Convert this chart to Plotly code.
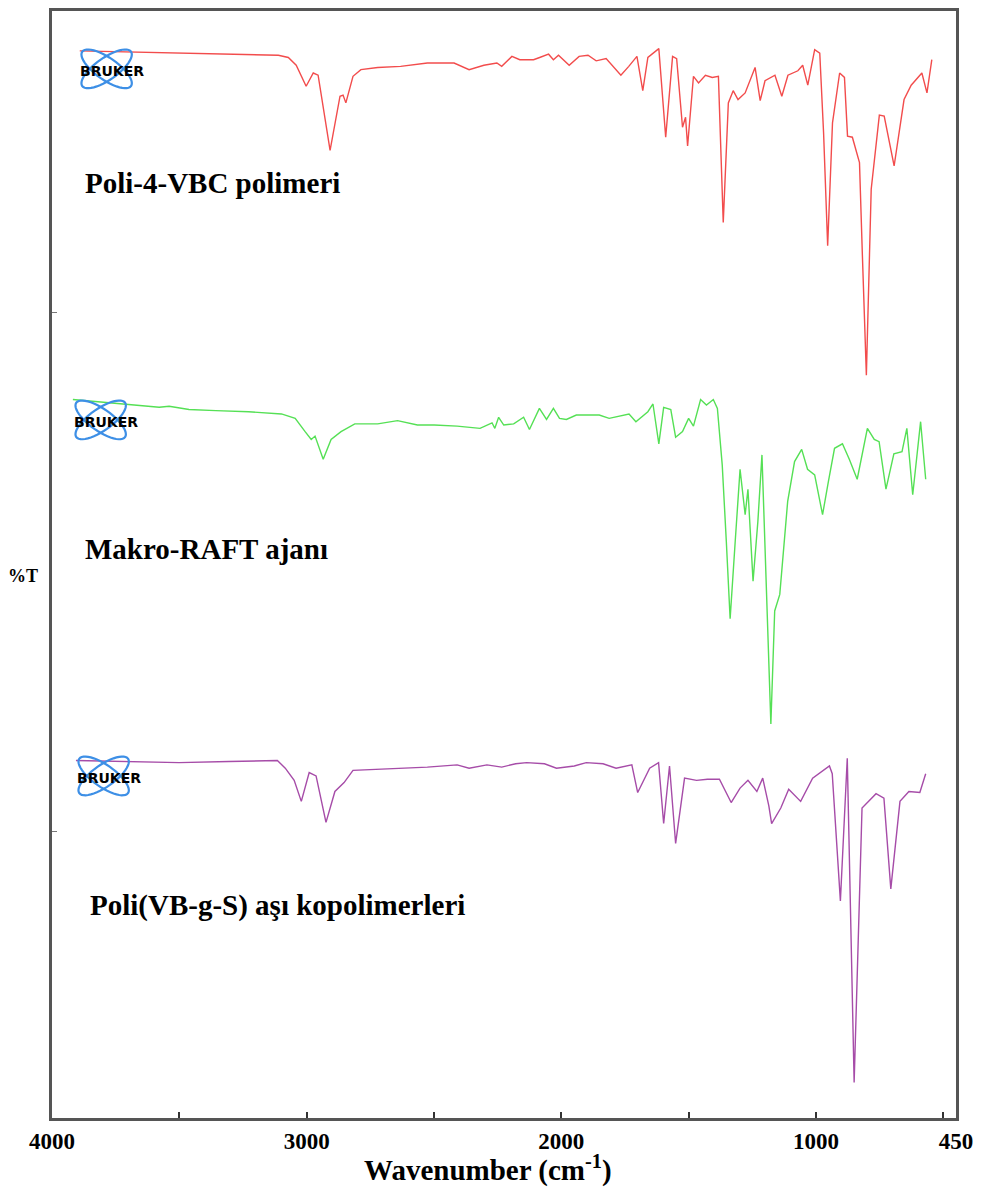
import math
import plotly.graph_objects as go

# ---------------- data (wavenumber cm-1, %T offset scale) ----------------
red_wn = [3891, 3696, 3501, 3306, 3111, 3072, 3041, 3002, 2974, 2955, 2908, 2869, 2857, 2846,
          2818, 2787, 2721, 2631, 2526, 2421, 2362, 2304, 2253, 2234, 2194, 2163, 2109, 2085,
          2050, 2031, 2011, 1969, 1930, 1895, 1863, 1824, 1766, 1735, 1703, 1680, 1660, 1617,
          1590, 1563, 1547, 1524, 1512, 1504, 1481, 1461, 1434, 1407, 1383, 1364, 1344, 1325,
          1306, 1278, 1239, 1219, 1200, 1161, 1134, 1110, 1071, 1052, 1032, 1005, 985, 970,
          954, 935, 907, 888, 876, 857, 829, 818, 802, 783, 751, 732, 693, 654, 626, 584, 564, 545]
red_t = [96.4, 96.3, 96.2, 96.1, 96.0, 95.8, 95.1, 93.2, 94.4, 94.2, 87.4, 92.3, 92.4, 91.7,
         94.1, 94.7, 94.9, 95.0, 95.3, 95.3, 94.7, 95.1, 95.3, 95.0, 95.9, 95.6, 95.6, 95.8,
         96.1, 95.6, 96.0, 95.1, 95.9, 96.0, 95.5, 95.7, 94.2, 95.0, 95.9, 92.8, 95.8, 96.6,
         88.6, 95.9, 95.7, 89.5, 90.4, 87.8, 94.1, 93.5, 94.2, 94.0, 94.1, 80.9, 91.7, 92.8,
         92.0, 92.6, 94.9, 91.9, 93.7, 94.2, 92.3, 94.2, 94.6, 95.1, 93.3, 96.5, 96.2, 89.0,
         78.8, 89.9, 94.4, 94.0, 88.7, 88.6, 86.3, 78.2, 67.1, 83.9, 90.6, 90.5, 86.0, 92.0,
         93.3, 94.4, 92.6, 95.6]

green_wn = [3918, 3813, 3684, 3579, 3540, 3462, 3357, 3228, 3099, 3045, 3006, 2982, 2967, 2935,
            2904, 2865, 2811, 2721, 2643, 2565, 2499, 2409, 2319, 2272, 2261, 2246, 2226, 2187,
            2148, 2125, 2086, 2058, 2031, 2007, 1980, 1941, 1851, 1812, 1734, 1707, 1660, 1640,
            1617, 1598, 1570, 1551, 1524, 1500, 1481, 1453, 1430, 1403, 1387, 1368, 1352, 1337,
            1317, 1298, 1278, 1267, 1247, 1228, 1212, 1193, 1177, 1162, 1142, 1111, 1084, 1056,
            1033, 1005, 974, 951, 927, 896, 869, 838, 798, 771, 752, 725, 694, 662, 643, 620,
            589, 569]
green_t = [64.9, 64.7, 64.4, 64.2, 64.3, 64.0, 63.9, 63.8, 63.6, 63.2, 62.0, 61.3, 61.6, 59.5,
           61.3, 62.0, 62.7, 62.7, 63.0, 62.6, 62.6, 62.5, 62.3, 62.8, 62.3, 63.3, 62.6, 62.7,
           63.3, 62.2, 64.1, 63.1, 64.1, 63.2, 63.1, 63.5, 63.5, 63.2, 63.6, 62.9, 63.8, 64.5,
           60.9, 64.2, 64.0, 61.5, 62.0, 63.2, 62.5, 64.9, 64.4, 64.9, 64.1, 59.0, 52.1, 45.1,
           52.1, 58.6, 54.5, 56.8, 48.5, 53.9, 59.9, 45.5, 35.6, 45.8, 47.3, 55.7, 59.3, 60.4,
           58.6, 58.1, 54.5, 57.5, 60.5, 60.9, 59.5, 57.7, 62.3, 61.3, 61.1, 56.8, 60.0, 60.2,
           62.3, 56.3, 62.9, 57.7]

purple_wn = [3906, 3696, 3501, 3306, 3115, 3084, 3049, 3021, 2990, 2963, 2924, 2889, 2853, 2818,
             2635, 2526, 2409, 2362, 2292, 2234, 2179, 2136, 2066, 2019, 1949, 1902, 1836, 1785,
             1723, 1700, 1653, 1618, 1598, 1575, 1551, 1516, 1469, 1426, 1379, 1333, 1298, 1267,
             1232, 1209, 1185, 1174, 1138, 1107, 1060, 1013, 947, 936, 904, 877, 850, 819, 764,
             733, 706, 670, 635, 592, 569]
purple_t = [32.3, 32.2, 32.1, 32.2, 32.3, 31.6, 30.5, 28.6, 31.2, 30.9, 26.7, 29.5, 30.3, 31.4,
            31.6, 31.7, 31.9, 31.6, 31.9, 31.7, 32.0, 32.1, 32.0, 31.6, 31.8, 32.1, 32.0, 31.6,
            31.9, 29.4, 31.6, 32.1, 26.6, 31.8, 24.8, 30.7, 30.5, 30.6, 30.6, 28.5, 29.8, 30.5,
            29.5, 30.7, 28.2, 26.6, 28.0, 29.7, 28.6, 30.7, 31.8, 31.1, 19.6, 32.5, 3.2, 28.0,
            29.3, 28.9, 20.7, 28.6, 29.5, 29.4, 31.1]

series_names = ["Poli-4-VBC polimeri", "Makro-RAFT ajanı", "Poli(VB-g-S) aşı kopolimerleri"]
series_colors = ["#f24c4c", "#55e055", "#a64ca8"]

x_tickvals = [4000, 3500, 3000, 2500, 2000, 1500, 1000, 500, 450]
x_ticklabels = ["4000", "", "3000", "", "2000", "", "1000", "", "450"]
y_tickvals = [25.9, 72.8]

# ---------------- figure ----------------
W, H = 981, 1189
L, R, T, B = 52, 19, 8, 71
PW, PH = W - L - R, H - T - B

fig = go.Figure()
for wn, tv, name, col in zip([red_wn, green_wn, purple_wn], [red_t, green_t, purple_t],
                             series_names, series_colors):
    fig.add_trace(go.Scatter(x=wn, y=tv, mode="lines", name=name,
                             line=dict(color=col, width=1.4), showlegend=False))

serif = "Liberation Serif, Times New Roman, serif"

def px2paper(px, py):
    return (px - L) / PW, (T + PH - py) / PH

def ellipse_path(cx, cy, a, b, ang_deg, n=48):
    ang = math.radians(ang_deg)
    pts = []
    for i in range(n + 1):
        t = 2 * math.pi * i / n
        ex, ey = a * math.cos(t), b * math.sin(t)
        rx = cx + ex * math.cos(ang) - ey * math.sin(ang)
        ry = cy + ex * math.sin(ang) + ey * math.cos(ang)
        pts.append(px2paper(rx, ry))
    return "M " + " L ".join(f"{x:.5f},{y:.5f}" for x, y in pts) + " Z"

# Bruker logos (decoration)
logo_centers = [(107, 66), (101, 418), (104, 775)]
for cx, cy in logo_centers:
    for ang in (35, -35):
        fig.add_shape(type="path", path=ellipse_path(cx, cy, 30, 11, ang),
                      xref="paper", yref="paper",
                      line=dict(color="#3d8fe6", width=2.2), fillcolor="rgba(0,0,0,0)")
    xp, yp = px2paper(cx + 5, cy + 2)
    fig.add_annotation(x=xp, y=yp, xref="paper", yref="paper", text="<b>BRUKER</b>",
                       showarrow=False, font=dict(family="DejaVu Sans", size=14, color="black"),
                       xanchor="center", yanchor="middle")

# series labels
label_pos = [(83, 180), (83, 547), (88, 905)]
for (lx, ly), name in zip(label_pos, series_names):
    xp, yp = px2paper(lx, ly)
    fig.add_annotation(x=xp, y=yp, xref="paper", yref="paper", text=f"<b>{name}</b>",
                       showarrow=False, font=dict(family=serif, size=29, color="black"),
                       xanchor="left", yanchor="middle")

# y label
xp, yp = px2paper(23, 575)
fig.add_annotation(x=xp, y=yp, xref="paper", yref="paper", text="<b>%T</b>",
                   showarrow=False, font=dict(family=serif, size=18, color="black"),
                   xanchor="center", yanchor="middle")
# x title
xp, yp = px2paper(491, 1169)
fig.add_annotation(x=xp, y=yp, xref="paper", yref="paper",
                   text="<b>Wavenumber (cm<sup>-1</sup>)</b>",
                   showarrow=False, font=dict(family=serif, size=29, color="black"),
                   xanchor="center", yanchor="middle")

fig.update_layout(
    width=W, height=H,
    margin=dict(l=L, r=R, t=T, b=B),
    paper_bgcolor="white", plot_bgcolor="white",
    xaxis=dict(range=[4000, 450], tickvals=x_tickvals,
               ticktext=[f"<b>{t}</b>" if t else "" for t in x_ticklabels],
               ticks="inside", ticklen=6, tickwidth=2, tickcolor="#333",
               showgrid=False, zeroline=False, showline=True, linecolor="#555",
               linewidth=3, mirror=True,
               tickfont=dict(family=serif, size=23, color="black"),
               ticklabelstandoff=0),
    yaxis=dict(range=[0, 100], tickvals=y_tickvals, showticklabels=False,
               ticks="inside", ticklen=5, tickwidth=1, tickcolor="#777",
               showgrid=False, zeroline=False, showline=True, linecolor="#555",
               linewidth=3, mirror=True),
)

fig.write_html("out.html")
